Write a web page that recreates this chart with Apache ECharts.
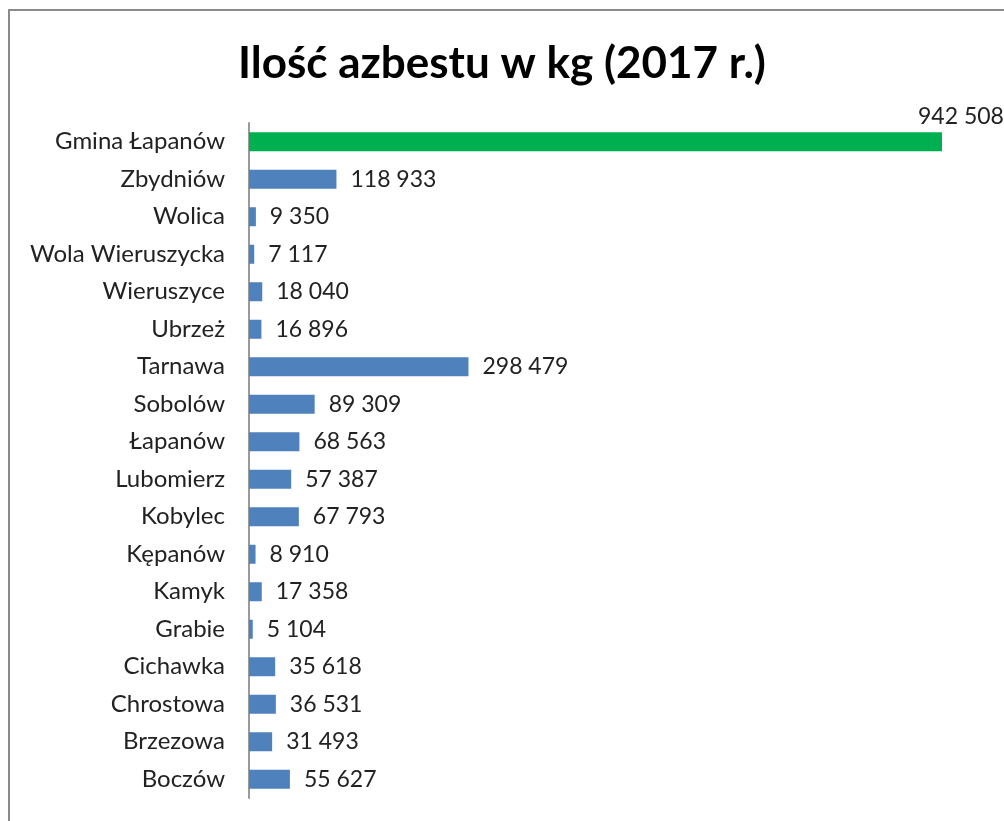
<!DOCTYPE html>
<html>
<head>
<meta charset="utf-8">
<script src="https://cdn.jsdelivr.net/npm/echarts@6/dist/echarts.min.js"></script>
<style>
  html, body { margin: 0; padding: 0; background: #fff; }
  #chart { width: 1004px; height: 821px; }
</style>
</head>
<body>
<div id="chart"></div>
<script>
// gminy, od góry do dołu
const categories = [
  'Gmina Łapanów', 'Zbydniów', 'Wolica', 'Wola Wieruszycka', 'Wieruszyce',
  'Ubrzeż', 'Tarnawa', 'Sobolów', 'Łapanów', 'Lubomierz', 'Kobylec',
  'Kępanów', 'Kamyk', 'Grabie', 'Cichawka', 'Chrostowa', 'Brzezowa', 'Boczów'
];
const values = [
  942508, 118933, 9350, 7117, 18040, 16896, 298479, 89309, 68563, 57387,
  67793, 8910, 17358, 5104, 35618, 36531, 31493, 55627
];

const fmt = v => String(v).replace(/\B(?=(\d{3})+(?!\d))/g, ' ');

const chart = echarts.init(document.getElementById('chart'));

chart.setOption({
  animation: false,
  title: {
    text: 'Ilość azbestu w kg (2017 r.)',
    left: 'center',
    top: 37,
    textStyle: {
      fontFamily: 'Lato',
      fontSize: 44,
      fontWeight: 'bold',
      color: '#000'
    }
  },
  graphic: [{
    type: 'rect',
    shape: { x: 9, y: 10, width: 1100, height: 900 },
    style: { fill: 'none', stroke: '#8a8a8a', lineWidth: 2 },
    silent: true
  }],
  grid: { left: 249, top: 123, width: 693, height: 675 },
  xAxis: {
    type: 'value',
    min: 0,
    max: 942508,
    show: false
  },
  yAxis: {
    type: 'category',
    data: categories,
    inverse: true,
    axisLine: { show: true, lineStyle: { color: '#9a9a9a', width: 2 } },
    axisTick: { show: false },
    axisLabel: {
      fontFamily: 'Lato',
      fontSize: 24,
      color: '#222',
      margin: 24
    }
  },
  series: [{
    type: 'bar',
    barWidth: 19,
    data: values.map((v, i) => i === 0
      ? { value: v, itemStyle: { color: '#00B050' },
          label: { position: 'right', offset: [-24, -25], distance: 0 } }
      : { value: v }),
    itemStyle: { color: '#4F81BD' },
    label: {
      show: true,
      position: 'right',
      distance: 14,
      fontFamily: 'Lato',
      fontSize: 23,
      color: '#222',
      formatter: p => fmt(p.value)
    }
  }]
});
</script>
</body>
</html>
